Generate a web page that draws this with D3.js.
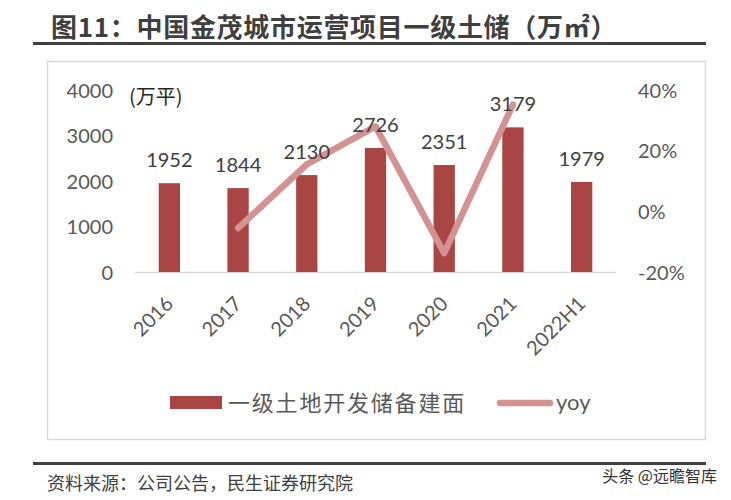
<!DOCTYPE html>
<html><head><meta charset="utf-8">
<script src="https://cdn.jsdelivr.net/npm/d3@7/dist/d3.min.js"></script>
<style>body{margin:0;background:#fff;}svg{display:block;font-family:"Noto Sans CJK SC","Noto Sans",sans-serif;}</style>
</head><body><div id="chart"></div>
<script>
const categories = ["2016","2017","2018","2019","2020","2021","2022H1"];
const reserveArea = [1952,1844,2130,2726,2351,3179,1979];
const yoyCategories = ["2017","2018","2019","2020","2021"];
const yoyValues = [-0.055,0.155,0.280,-0.138,0.352];
const leftTicks = [0,1000,2000,3000,4000];
const rightTicks = [-0.2,0,0.2,0.4];

const W=731,H=500;
const svg=d3.select("#chart").append("svg").attr("width",W).attr("height",H);
const font="Lato,'Noto Sans',sans-serif";
const cjk="'Noto Sans CJK SC',sans-serif";

// title
svg.append("text").attr("x",51).attr("y",37).attr("fill","#3f3f3f")
  .attr("font-size",26).attr("letter-spacing",0.7).attr("font-weight","bold").attr("font-family",cjk)
  .text("图11：中国金茂城市运营项目一级土储（万㎡）");
svg.append("line").attr("x1",33).attr("x2",706).attr("y1",43.5).attr("y2",43.5)
  .attr("stroke","#404040").attr("stroke-width",3);

// chart box
svg.append("rect").attr("x",47.5).attr("y",61.5).attr("width",658).attr("height",378)
  .attr("fill","none").attr("stroke","#d9d9d9").attr("stroke-width",1.5);

const x=d3.scaleBand().domain(categories).range([135,616]).paddingInner(0.69).paddingOuter(0.345);
const y=d3.scaleLinear().domain([0,4000]).range([272,90]);
const y2=d3.scaleLinear().domain([-0.2,0.4]).range([272,90]);

// left axis
const la=svg.append("g").attr("transform","translate(113,0)")
  .call(d3.axisLeft(y).tickValues(leftTicks).tickFormat(d3.format("d")).tickSize(0).tickPadding(0));
la.select(".domain").remove();
la.selectAll("text").attr("font-size",20).attr("fill","#595959").attr("font-family",font).attr("dy","0.35em");

// right axis
const pct=d3.format(".0%");
const ra=svg.append("g").attr("transform","translate(638,0)")
  .call(d3.axisRight(y2).tickValues(rightTicks).tickFormat(d=>pct(d).replace("\u2212","-")).tickSize(0).tickPadding(0));
ra.select(".domain").remove();
ra.selectAll("text").attr("font-size",20).attr("fill","#595959").attr("font-family",font).attr("dy","0.35em");

// baseline
svg.append("line").attr("x1",135).attr("x2",616).attr("y1",y(0)+0.5).attr("y2",y(0)+0.5)
  .attr("stroke","#d9d9d9").attr("stroke-width",1.5);

// x labels
const xa=svg.append("g").attr("transform",`translate(0,${y(0)})`)
  .call(d3.axisBottom(x).tickSize(0).tickPadding(0));
xa.select(".domain").remove();
xa.selectAll("text").attr("font-size",20).attr("fill","#595959").attr("font-family",font)
  .attr("text-anchor","end").attr("dy","0").attr("y",0).attr("transform","translate(5,33) rotate(-45)");

// bars
svg.selectAll("rect.bar").data(categories).enter().append("rect").attr("class","bar")
  .attr("x",d=>x(d)).attr("width",x.bandwidth())
  .attr("y",(d,i)=>y(reserveArea[i])).attr("height",(d,i)=>y(0)-y(reserveArea[i]))
  .attr("fill","#a94644");

// line
const line=d3.line().x(d=>x(d[0])+x.bandwidth()/2).y(d=>y2(d[1]));
svg.append("path").datum(yoyCategories.map((c,i)=>[c,yoyValues[i]]))
  .attr("d",line).attr("fill","none").attr("stroke","#d49291").attr("stroke-width",6.5)
  .attr("stroke-linecap","round").attr("stroke-linejoin","round");

// labels
svg.selectAll("text.lab").data(categories).enter().append("text").attr("class","lab")
  .attr("x",d=>x(d)+x.bandwidth()/2).attr("y",(d,i)=>y(reserveArea[i])-16)
  .attr("text-anchor","middle").attr("font-size",20).attr("fill","#404040").attr("font-family",font)
  .text((d,i)=>reserveArea[i]);

// unit
svg.append("text").attr("x",129).attr("y",104).attr("font-size",20).attr("fill","#262626")
  .attr("font-family",cjk).text("(万平)");

// legend
svg.append("rect").attr("x",170).attr("y",396).attr("width",52).attr("height",13).attr("fill","#a94644");
svg.append("text").attr("x",228).attr("y",411).attr("font-size",22).attr("letter-spacing",1.8).attr("fill","#595959")
  .attr("font-family",cjk).text("一级土地开发储备建面");
svg.append("line").attr("x1",500).attr("x2",550).attr("y1",403).attr("y2",403)
  .attr("stroke","#d49291").attr("stroke-width",6.5).attr("stroke-linecap","round");
svg.append("text").attr("x",556).attr("y",410).attr("font-size",22).attr("fill","#595959")
  .attr("font-family",font).text("yoy");

// footer
svg.append("line").attr("x1",33).attr("x2",706).attr("y1",463.5).attr("y2",463.5)
  .attr("stroke","#404040").attr("stroke-width",3);
svg.append("text").attr("x",47).attr("y",490).attr("font-size",18).attr("fill","#404040")
  .attr("font-family",cjk).text("资料来源：公司公告，民生证券研究院");
svg.append("text").attr("x",717).attr("y",482).attr("text-anchor","end").attr("font-size",16).attr("fill","#333")
  .attr("font-family",cjk).text("头条 @远瞻智库");
</script></body></html>
